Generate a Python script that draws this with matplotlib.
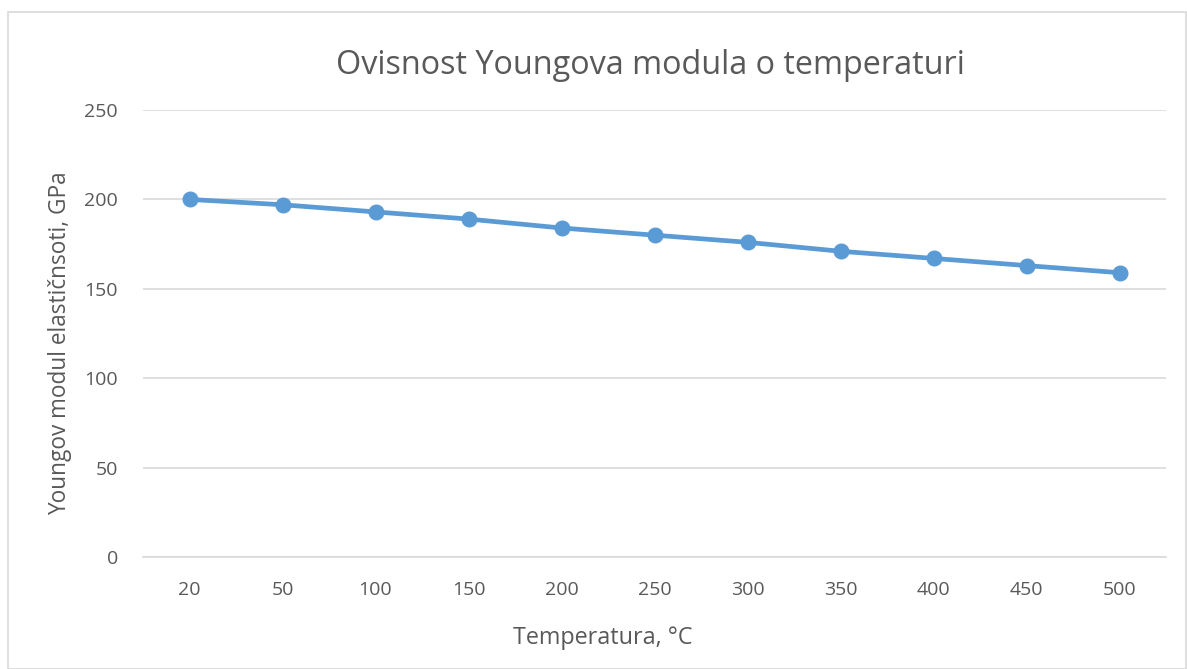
import matplotlib
matplotlib.use("Agg")
import matplotlib.pyplot as plt
from matplotlib.patches import Rectangle

# Temperature categories and Young's modulus values
temperatures = ["20", "50", "100", "150", "200", "250", "300", "350", "400", "450", "500"]
modulus_gpa = [200, 197, 193, 189, 184, 180, 176, 171, 167, 163, 159]
y_ticks = [0, 50, 100, 150, 200, 250]

W, H = 1187, 669
fig = plt.figure(figsize=(W / 100, H / 100), dpi=100)
plt.rcParams["font.family"] = ["Open Sans", "DejaVu Sans"]
text_color = "#595959"
grid_color = "#d9d9d9"
line_color = "#5B9BD5"

# Chart frame
fig.patches.append(Rectangle((8 / W, 0.5 / H), (W - 9) / W, (H - 12.5) / H,
                             transform=fig.transFigure, fill=False,
                             edgecolor="#d9d9d9", linewidth=1.2))

ax = fig.add_axes([143 / W, 1 - 557 / H, (1166 - 143) / W, (557 - 110) / H])
x = list(range(len(temperatures)))
ax.plot(x, modulus_gpa, color=line_color, linewidth=3.4, marker="o",
        markersize=10.5, markerfacecolor=line_color, markeredgecolor=line_color,
        zorder=3)

ax.set_xlim(-0.5, len(temperatures) - 0.5)
ax.set_ylim(0, 250)
ax.set_yticks(y_ticks)
ax.set_xticks(x)
ax.set_xticklabels(temperatures)
ax.grid(axis="y", color=grid_color, linewidth=1.2)
ax.set_axisbelow(True)
for side in ["left", "right", "top"]:
    ax.spines[side].set_visible(False)
ax.spines["bottom"].set_color(grid_color)
ax.spines["bottom"].set_linewidth(1.2)
ax.tick_params(axis="both", length=0, labelsize=14, colors=text_color)
ax.tick_params(axis="x", pad=17)
ax.tick_params(axis="y", pad=18)

fig.text(650 / W, 1 - 66 / H, "Ovisnost Youngova modula o temperaturi",
         fontsize=23.3, color=text_color, ha="center", va="center")
ax.set_xlabel("Temperatura, °C", fontsize=16.8, color=text_color)
ax.xaxis.set_label_coords((603 - 143) / (1166 - 143), -(638 - 557) / (557 - 110))
ax.xaxis.label.set_verticalalignment("center")
ax.set_ylabel("Youngov modul elastičnsoti, GPa", fontsize=16.3, color=text_color)
ax.yaxis.set_label_coords(-(143 - 60) / (1166 - 143), (557 - 343) / (557 - 110))
ax.yaxis.label.set_verticalalignment("center")

fig.savefig("out.png", dpi=100)
